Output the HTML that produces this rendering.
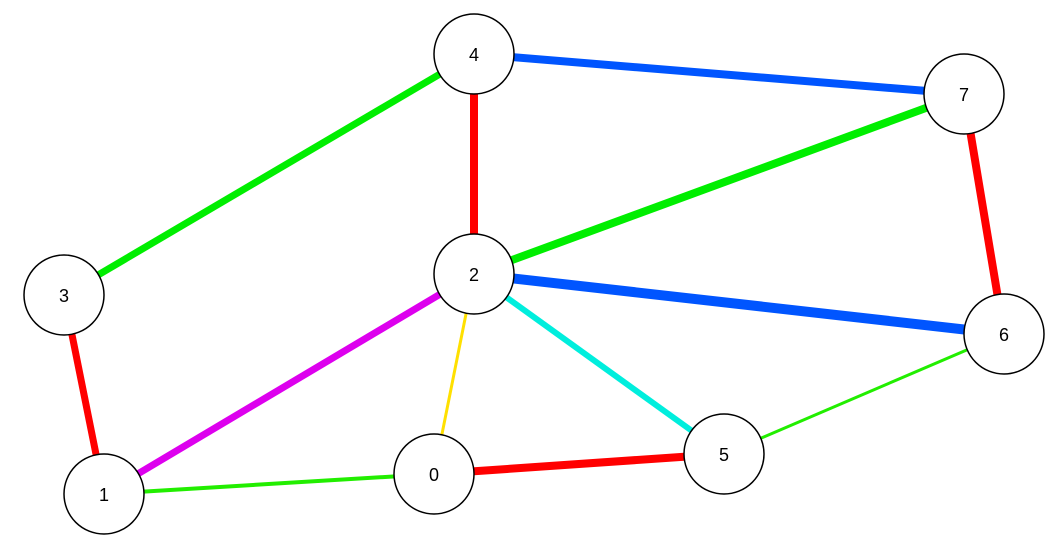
<!DOCTYPE html>
<html><head><meta charset="utf-8"><style>
html,body{margin:0;padding:0;background:#fff;}
svg{display:block}
text{font-family:"Liberation Sans",sans-serif;font-size:18px;}
</style></head><body>
<svg width="1059" height="550" viewBox="0 0 1059 550" xmlns="http://www.w3.org/2000/svg">
<g stroke-linecap="butt">
<line x1="474" y1="54" x2="964" y2="94" stroke="#0055ff" stroke-width="8"/>
<line x1="474" y1="54" x2="474" y2="274" stroke="#ff0000" stroke-width="8"/>
<line x1="474" y1="54" x2="64" y2="295" stroke="#00ee00" stroke-width="7"/>
<line x1="964" y1="94" x2="474" y2="274" stroke="#00ee00" stroke-width="8"/>
<line x1="964" y1="94" x2="1004" y2="334" stroke="#ff0000" stroke-width="8"/>
<line x1="474" y1="274" x2="1004" y2="334" stroke="#0055ff" stroke-width="10"/>
<line x1="474" y1="274" x2="104" y2="494" stroke="#dd00ee" stroke-width="7"/>
<line x1="474" y1="274" x2="434" y2="474" stroke="#ffe000" stroke-width="3"/>
<line x1="474" y1="274" x2="724" y2="454" stroke="#00eedd" stroke-width="6"/>
<line x1="1004" y1="334" x2="724" y2="454" stroke="#22ee00" stroke-width="3"/>
<line x1="434" y1="474" x2="724" y2="454" stroke="#ff0000" stroke-width="8"/>
<line x1="104" y1="494" x2="434" y2="474" stroke="#22ee00" stroke-width="4"/>
<line x1="64" y1="295" x2="104" y2="494" stroke="#ff0000" stroke-width="7"/>
</g>
<g fill="#fff" stroke="#000" stroke-width="1.5">
<circle cx="474" cy="54" r="40"/>
<circle cx="964" cy="94" r="40"/>
<circle cx="64" cy="295" r="40"/>
<circle cx="474" cy="274" r="40"/>
<circle cx="1004" cy="334" r="40"/>
<circle cx="104" cy="494" r="40"/>
<circle cx="434" cy="474" r="40"/>
<circle cx="724" cy="454" r="40"/>
</g>
<g text-anchor="middle" fill="#000">
<text x="474" y="61">4</text>
<text x="964" y="101">7</text>
<text x="64" y="302">3</text>
<text x="474" y="281">2</text>
<text x="1004" y="341">6</text>
<text x="104" y="501">1</text>
<text x="434" y="481">0</text>
<text x="724" y="461">5</text>
</g>
</svg>
</body></html>
